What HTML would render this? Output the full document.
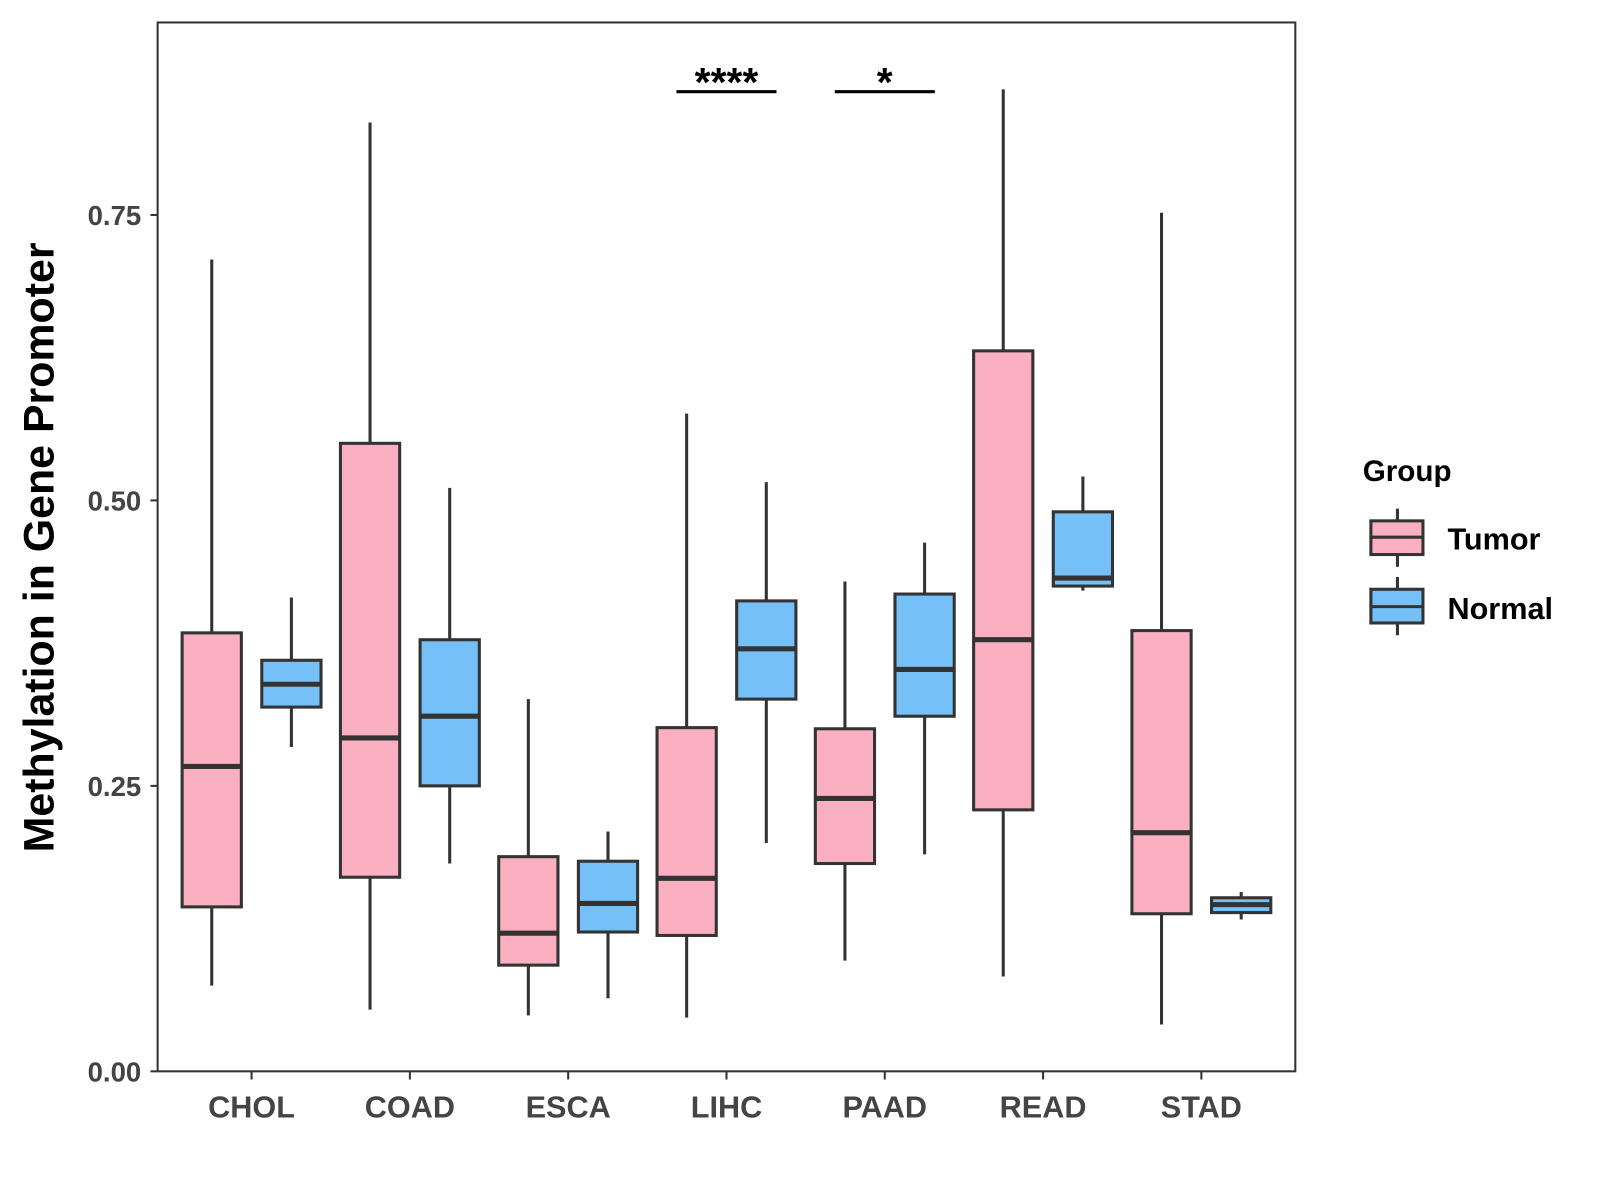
<!DOCTYPE html>
<html><head><meta charset="utf-8"><style>
html,body{margin:0;padding:0;background:#fff;}
svg{display:block;font-family:"Liberation Sans",Arial,sans-serif;}
</style></head><body>
<svg id="chart" width="1600" height="1200" viewBox="0 0 1566 1175" xmlns="http://www.w3.org/2000/svg">
<rect x="0" y="0" width="1566" height="1175" fill="#fff"/>
<g id="plot"></g>
<rect x="154" y="22" width="1114" height="1027" fill="none" stroke="#333" stroke-width="2"/>
<text transform="translate(52,536) rotate(-90)" text-anchor="middle" font-size="42" font-weight="bold" fill="#000">Methylation in Gene Promoter</text>
<g>
<text x="1334" y="471" font-size="29" font-weight="bold" fill="#000">Group</text>
<g>
<line x1="1368" y1="498" x2="1368" y2="555" stroke="#333" stroke-width="3"/>
<rect x="1342" y="510" width="51" height="33" fill="#FBB0C2" stroke="#333" stroke-width="3"/>
<line x1="1342" y1="526" x2="1393" y2="526" stroke="#333" stroke-width="3"/>
<text x="1417" y="538" font-size="30" font-weight="bold" fill="#000">Tumor</text>
</g>
<g>
<line x1="1368" y1="565" x2="1368" y2="622" stroke="#333" stroke-width="3"/>
<rect x="1342" y="577" width="51" height="33" fill="#75C1F7" stroke="#333" stroke-width="3"/>
<line x1="1342" y1="594" x2="1393" y2="594" stroke="#333" stroke-width="3"/>
<text x="1417" y="606" font-size="30" font-weight="bold" fill="#000">Normal</text>
</g>
</g>
</svg>
<script>
const categories = ["CHOL","COAD","ESCA","LIHC","PAAD","READ","STAD"];
// [lower whisker, q1, median, q3, upper whisker]
const tumorStats = [
 [0.075,0.144,0.267,0.384,0.711],
 [0.054,0.170,0.292,0.550,0.831],
 [0.049,0.093,0.121,0.188,0.326],
 [0.047,0.119,0.169,0.301,0.576],
 [0.097,0.182,0.239,0.300,0.429],
 [0.083,0.229,0.378,0.631,0.860],
 [0.041,0.138,0.209,0.386,0.752]
];
const normalStats = [
 [0.284,0.319,0.339,0.360,0.415],
 [0.182,0.250,0.311,0.378,0.511],
 [0.064,0.122,0.147,0.184,0.210],
 [0.200,0.326,0.370,0.412,0.516],
 [0.190,0.311,0.352,0.418,0.463],
 [0.421,0.425,0.432,0.490,0.521],
 [0.133,0.139,0.146,0.152,0.157]
];
const yTicks = [0, 0.25, 0.5, 0.75];
const yTickLabels = ["0.00","0.25","0.50","0.75"];
const sigCategories = ["LIHC","PAAD"];
const sigLabels = ["****","*"];
const sigHeights = [0.858, 0.858];

const NS="http://www.w3.org/2000/svg";
const g=document.getElementById('plot');
const yS=v=>1049-v*1118;
const xS=i=>246+i*155;
function el(t,a){const e=document.createElementNS(NS,t);for(const k in a)e.setAttribute(k,a[k]);g.appendChild(e);return e;}

yTicks.forEach((t,i)=>{
 const tk=el('line',{x1:147,x2:154,y1:yS(t),y2:yS(t),stroke:'#333','stroke-width':2});
 
 
 const tx=el('text',{x:138,y:yS(t)+10,'text-anchor':'end','font-size':27,'font-weight':'bold',fill:'#444'});
 tx.textContent=yTickLabels[i];
 
 
});
categories.forEach((c,i)=>{
 const tk=el('line',{x1:xS(i),x2:xS(i),y1:1049,y2:1057,stroke:'#333','stroke-width':2});
 
 
 const tx=el('text',{x:xS(i),y:1094,'text-anchor':'middle','font-size':30,'font-weight':'bold',fill:'#444'});
 tx.textContent=c;
 
 
});
function box(cx,s,fill,name){
 const w=58;
 const wl=el('line',{x1:cx,x2:cx,y1:yS(s[0]),y2:yS(s[4]),stroke:'#333','stroke-width':3});
 
 
 const r=el('rect',{x:cx-w/2,y:yS(s[3]),width:w,height:Math.max(1,yS(s[1])-yS(s[3])),fill:fill,stroke:'#333','stroke-width':3});
 
 
 const m=el('line',{x1:cx-w/2,x2:cx+w/2,y1:yS(s[2]),y2:yS(s[2]),stroke:'#333','stroke-width':5});
 
 
}
categories.forEach((c,i)=>{
 box(xS(i)-39,tumorStats[i],'#FBB0C2',c.toLowerCase()+'-tumor');
 box(xS(i)+39,normalStats[i],'#75C1F7',c.toLowerCase()+'-normal');
});
sigCategories.forEach((c,k)=>{
 const i=categories.indexOf(c);
 const y=yS(sigHeights[k]);
 const l=el('line',{x1:xS(i)-49,x2:xS(i)+49,y1:y,y2:y,stroke:'#000','stroke-width':3});
 
 
 const t=el('text',{x:xS(i),y:y+4,'text-anchor':'middle','font-size':40,'font-weight':'bold',fill:'#000'});
 t.textContent=sigLabels[k];
 
 
});
</script>
</body></html>
